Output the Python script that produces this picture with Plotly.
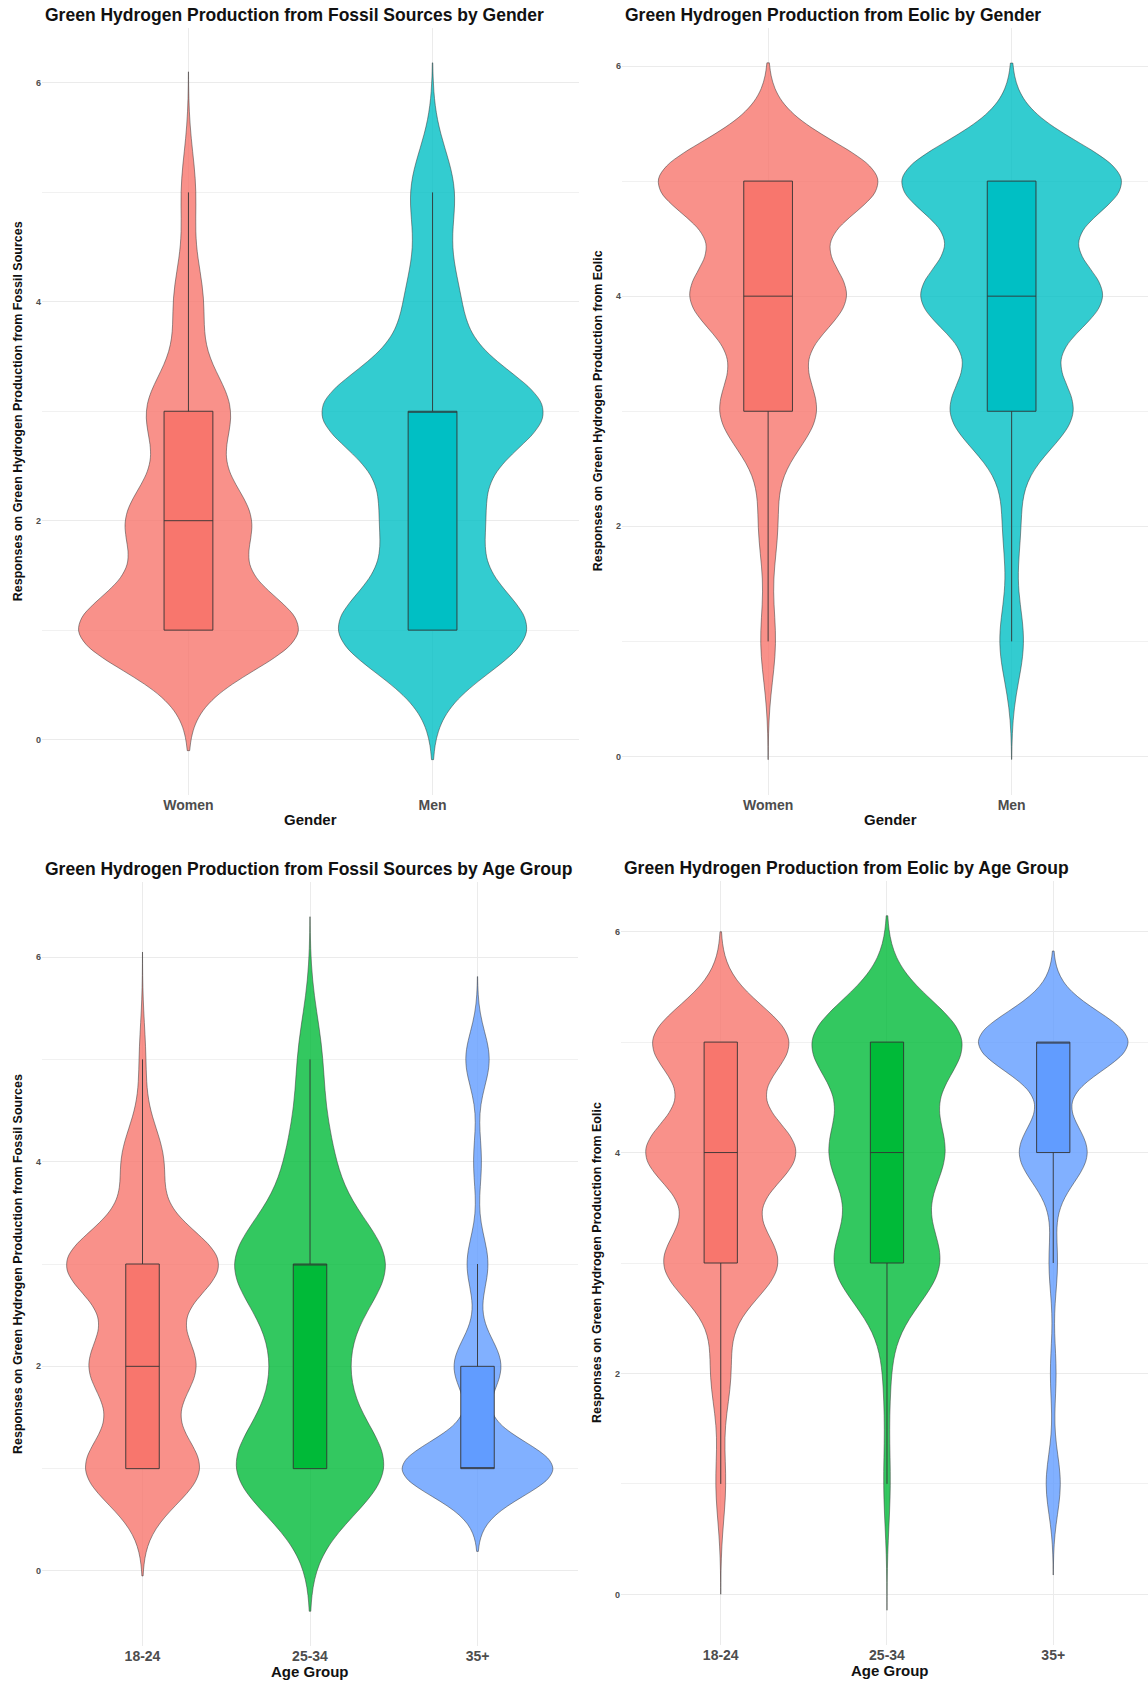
import numpy as np
import plotly.graph_objects as go

# Likert answer scale
LIKERT = [1, 2, 3, 4, 5]

GENDERS = ["Women", "Men"]
AGE_GROUPS = ["18-24", "25-34", "35+"]

# Number of respondents giving each answer 1..5
fossil_women = [62, 34, 23, 8, 4]
fossil_men = [53, 26, 62, 14, 12]
eolic_women = [4, 5, 26, 42, 60]
eolic_men = [7, 5, 36, 53, 65]

fossil_18_24 = [36, 33, 48, 13, 2]
fossil_25_34 = [26, 10, 26, 7, 4]
fossil_35_plus = [58, 18, 8, 3, 9]
eolic_18_24 = [3, 6, 35, 46, 42]
eolic_25_34 = [1, 1, 16, 17, 23]
eolic_35_plus = [5, 2, 3, 24, 53]

GENDER_COLORS = ["#F8766D", "#00BFC4"]
AGE_COLORS = ["#F8766D", "#00BA38", "#619CFF"]

W, H = 1148, 1682


def responses(counts):
    return np.repeat(LIKERT, counts).astype(float)


def nrd0(x):
    # Silverman's rule of thumb (R's bw.nrd0)
    sd = np.std(x, ddof=1)
    q75, q25 = np.percentile(x, [75, 25])
    lo = min(sd, (q75 - q25) / 1.34)
    if lo == 0:
        lo = sd if sd > 0 else 1.0
    return 0.9 * lo * len(x) ** -0.2


def rgba(hexcol, a):
    h = hexcol.lstrip("#")
    r, g, b = int(h[0:2], 16), int(h[2:4], 16), int(h[4:6], 16)
    return f"rgba({r},{g},{b},{a})"


panels = [
    dict(groups=GENDERS, data=[fossil_women, fossil_men], colors=GENDER_COLORS,
         title="Green Hydrogen Production from Fossil Sources by Gender",
         xtitle="Gender", ytitle="Responses on Green Hydrogen Production from Fossil Sources",
         px=(42, 579), py=(28, 794.5), xmax=1.6),
    dict(groups=GENDERS, data=[eolic_women, eolic_men], colors=GENDER_COLORS,
         title="Green Hydrogen Production from Eolic by Gender",
         xtitle="Gender", ytitle="Responses on Green Hydrogen Production from Eolic",
         px=(622, 1148), py=(28, 794.5), xmax=1.56),
    dict(groups=AGE_GROUPS, data=[fossil_18_24, fossil_25_34, fossil_35_plus], colors=AGE_COLORS,
         title="Green Hydrogen Production from Fossil Sources by Age Group",
         xtitle="Age Group", ytitle="Responses on Green Hydrogen Production from Fossil Sources",
         px=(42, 578), py=(882, 1646), xmax=2.6),
    dict(groups=AGE_GROUPS, data=[eolic_18_24, eolic_25_34, eolic_35_plus], colors=AGE_COLORS,
         title="Green Hydrogen Production from Eolic by Age Group",
         xtitle="Age Group", ytitle="Responses on Green Hydrogen Production from Eolic",
         px=(621, 1148), py=(881, 1645), xmax=2.57),
]

fig = go.Figure()
annotations = []
BOLD = "Liberation Sans"

for i, p in enumerate(panels):
    sfx = "" if i == 0 else str(i + 1)
    xa, ya = "x" + sfx, "y" + sfx
    lo_all, hi_all = [], []
    for name, counts, col in zip(p["groups"], p["data"], p["colors"]):
        y = responses(counts)
        bw = nrd0(y)
        span = [y.min() - 3 * bw, y.max() + 3 * bw]
        lo_all.append(span[0])
        hi_all.append(span[1])
        fig.add_trace(go.Violin(
            x=[name] * len(y), y=y, name=name, xaxis=xa, yaxis=ya,
            width=0.9, scalemode="width", bandwidth=bw,
            spanmode="manual", span=span,
            fillcolor=rgba(col, 0.8),
            line=dict(color="rgba(51,51,51,0.85)", width=0.6),
            points=False, meanline=dict(visible=False),
            box=dict(visible=True, width=0.2 / 0.9, fillcolor=col,
                     line=dict(color="#333333", width=0.9)),
            showlegend=False, hoverinfo="skip",
        ))
    lo, hi = min(lo_all), max(hi_all)
    pad = 0.05 * (hi - lo)

    x0, x1 = p["px"]
    y0, y1 = p["py"]
    xdom = [x0 / W, x1 / W]
    ydom = [1 - y1 / H, 1 - y0 / H]

    fig.layout["xaxis" + sfx] = dict(
        domain=xdom, anchor=ya, type="category",
        categoryorder="array", categoryarray=p["groups"],
        range=[-0.6, p["xmax"]], showgrid=True, gridcolor="#EBEBEB", gridwidth=1,
        zeroline=False, showline=False, ticks="",
        tickfont=dict(family=BOLD, size=14, color="#4D4D4D", weight="bold"),
        fixedrange=True,
    )
    fig.layout["yaxis" + sfx] = dict(
        domain=ydom, anchor=xa, range=[lo - pad, hi + pad],
        tickvals=[0, 2, 4, 6], showgrid=True, gridcolor="#EBEBEB", gridwidth=1,
        minor=dict(tickvals=[1, 3, 5], showgrid=True, gridcolor="#F1F1F1", gridwidth=0.6),
        zeroline=False, showline=False, ticks="",
        tickfont=dict(family=BOLD, size=9, color="#4D4D4D", weight="bold"),
        fixedrange=True,
    )

    annotations.append(dict(
        text=p["title"], xref="paper", yref="paper",
        x=(x0 + 1) / W, y=1 - (y0 - 13) / H, xanchor="left", yanchor="middle",
        showarrow=False, font=dict(family=BOLD, size=17.5, color="#111111", weight="bold"),
    ))
    xcenter = (x0 + x1) / 2 if i % 2 == 0 else 890
    annotations.append(dict(
        text=p["xtitle"], xref="paper", yref="paper",
        x=xcenter / W, y=1 - (y1 + 25) / H, xanchor="center", yanchor="middle",
        showarrow=False, font=dict(family=BOLD, size=15, color="#111111", weight="bold"),
    ))
    annotations.append(dict(
        text=p["ytitle"], xref="paper", yref="paper", textangle=-90,
        x=(x0 - 24) / W, y=1 - ((y0 + y1) / 2) / H, xanchor="center", yanchor="middle",
        showarrow=False, font=dict(family=BOLD, size=12.5, color="#111111", weight="bold"),
    ))

fig.update_layout(
    width=W, height=H, autosize=False,
    margin=dict(l=0, r=0, t=0, b=0),
    paper_bgcolor="white", plot_bgcolor="white",
    violinmode="overlay", violingap=0, violingroupgap=0,
    annotations=annotations,
    showlegend=False,
)

fig.write_html("out.html")
